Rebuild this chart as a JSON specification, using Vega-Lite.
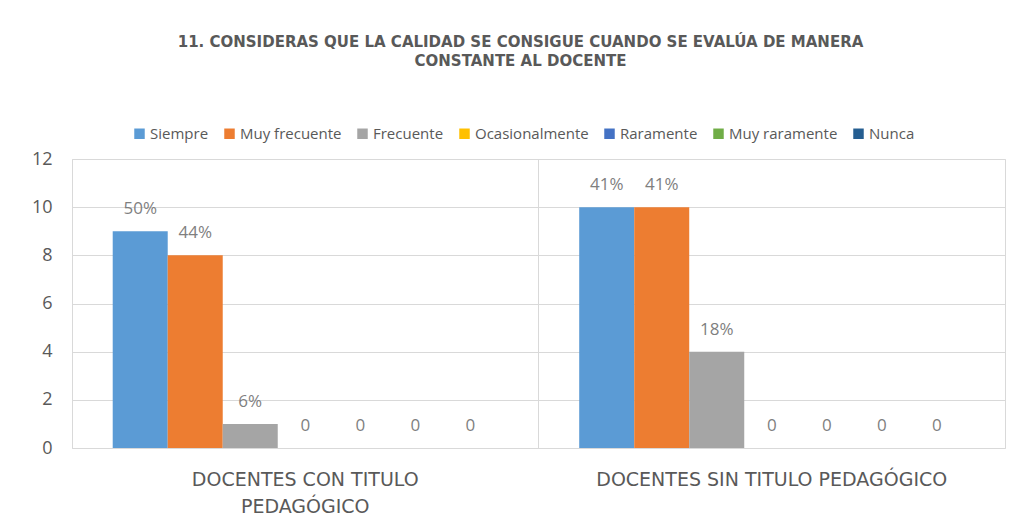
{
  "$schema": "https://vega.github.io/schema/vega-lite/v6.json",
  "autosize": "none",
  "width": 933,
  "height": 289,
  "padding": {"left": 72, "top": 159, "right": 14, "bottom": 83},
  "background": "white",
  "config": {
    "font": "Open Sans",
    "view": {"stroke": "#d9d9d9", "strokeWidth": 1}
  },
  "title": {
    "text": ["11. CONSIDERAS QUE LA CALIDAD SE CONSIGUE CUANDO SE EVALÚA DE MANERA", "CONSTANTE AL DOCENTE"],
    "fontSize": 15,
    "fontWeight": "bold",
    "color": "#595959",
    "font": "DejaVu Sans",
    "lineHeight": 19,
    "anchor": "middle",
    "offset": 88,
    "dy": 31,
    "dx": -18
  },
  "data": {
    "values": [
      {"grupo": "DOCENTES CON TITULO PEDAGÓGICO", "categoria": "Siempre", "valor": 9, "etiqueta": "50%"},
      {"grupo": "DOCENTES CON TITULO PEDAGÓGICO", "categoria": "Muy frecuente", "valor": 8, "etiqueta": "44%"},
      {"grupo": "DOCENTES CON TITULO PEDAGÓGICO", "categoria": "Frecuente", "valor": 1, "etiqueta": "6%"},
      {"grupo": "DOCENTES CON TITULO PEDAGÓGICO", "categoria": "Ocasionalmente", "valor": 0, "etiqueta": "0"},
      {"grupo": "DOCENTES CON TITULO PEDAGÓGICO", "categoria": "Raramente", "valor": 0, "etiqueta": "0"},
      {"grupo": "DOCENTES CON TITULO PEDAGÓGICO", "categoria": "Muy raramente", "valor": 0, "etiqueta": "0"},
      {"grupo": "DOCENTES CON TITULO PEDAGÓGICO", "categoria": "Nunca", "valor": 0, "etiqueta": "0"},
      {"grupo": "DOCENTES SIN TITULO PEDAGÓGICO", "categoria": "Siempre", "valor": 10, "etiqueta": "41%"},
      {"grupo": "DOCENTES SIN TITULO PEDAGÓGICO", "categoria": "Muy frecuente", "valor": 10, "etiqueta": "41%"},
      {"grupo": "DOCENTES SIN TITULO PEDAGÓGICO", "categoria": "Frecuente", "valor": 4, "etiqueta": "18%"},
      {"grupo": "DOCENTES SIN TITULO PEDAGÓGICO", "categoria": "Ocasionalmente", "valor": 0, "etiqueta": "0"},
      {"grupo": "DOCENTES SIN TITULO PEDAGÓGICO", "categoria": "Raramente", "valor": 0, "etiqueta": "0"},
      {"grupo": "DOCENTES SIN TITULO PEDAGÓGICO", "categoria": "Muy raramente", "valor": 0, "etiqueta": "0"},
      {"grupo": "DOCENTES SIN TITULO PEDAGÓGICO", "categoria": "Nunca", "valor": 0, "etiqueta": "0"}
    ]
  },
  "encoding": {
    "x": {
      "field": "grupo",
      "type": "nominal",
      "sort": null,
      "scale": {"paddingInner": 0, "paddingOuter": 0},
      "axis": {
        "title": null,
        "labelAngle": 0,
        "labelFontSize": 19,
        "labelColor": "#595959",
        "labelFont": "DejaVu Sans",
        "labelPadding": 22,
        "labelLineHeight": 27,
        "labelLimit": 500,
        "labelExpr": "datum.value == 'DOCENTES CON TITULO PEDAGÓGICO' ? ['DOCENTES CON TITULO', 'PEDAGÓGICO'] : datum.value",
        "ticks": false,
        "domain": false,
        "grid": true,
        "bandPosition": 0,
        "gridColor": "#d9d9d9"
      }
    },
    "xOffset": {
      "field": "categoria",
      "type": "nominal",
      "sort": ["Siempre", "Muy frecuente", "Frecuente", "Ocasionalmente", "Raramente", "Muy raramente", "Nunca"],
      "scale": {"paddingInner": 0, "paddingOuter": 0.74}
    },
    "y": {
      "field": "valor",
      "type": "quantitative",
      "scale": {"domain": [0, 12]},
      "axis": {
        "title": null,
        "values": [0, 2, 4, 6, 8, 10, 12],
        "labelFontSize": 18,
        "labelColor": "#595959",
        "labelFont": "Open Sans",
        "labelPadding": 20,
        "ticks": false,
        "domain": false,
        "gridColor": "#d9d9d9"
      }
    }
  },
  "layer": [
    {
      "mark": {"type": "bar"},
      "encoding": {
        "color": {
          "field": "categoria",
          "type": "nominal",
          "sort": ["Siempre", "Muy frecuente", "Frecuente", "Ocasionalmente", "Raramente", "Muy raramente", "Nunca"],
          "scale": {
            "domain": ["Siempre", "Muy frecuente", "Frecuente", "Ocasionalmente", "Raramente", "Muy raramente", "Nunca"],
            "range": ["#5B9BD5", "#ED7D31", "#A5A5A5", "#FFC000", "#4472C4", "#70AD47", "#255E91"]
          },
          "legend": {
            "title": null,
            "orient": "none",
            "direction": "horizontal",
            "legendX": 60,
            "legendY": -33,
            "symbolType": "square",
            "symbolSize": 110,
            "symbolStrokeWidth": 0,
            "labelFontSize": 15,
            "labelColor": "#595959",
            "labelFont": "Open Sans",
            "columnPadding": 13,
            "labelOffset": 3,
            "symbolOpacity": 1
          }
        }
      }
    },
    {
      "mark": {"type": "text", "baseline": "bottom", "dy": -13, "fontSize": 17, "color": "#7f7f7f", "font": "Open Sans"},
      "encoding": {
        "text": {"field": "etiqueta"}
      }
    }
  ]
}
